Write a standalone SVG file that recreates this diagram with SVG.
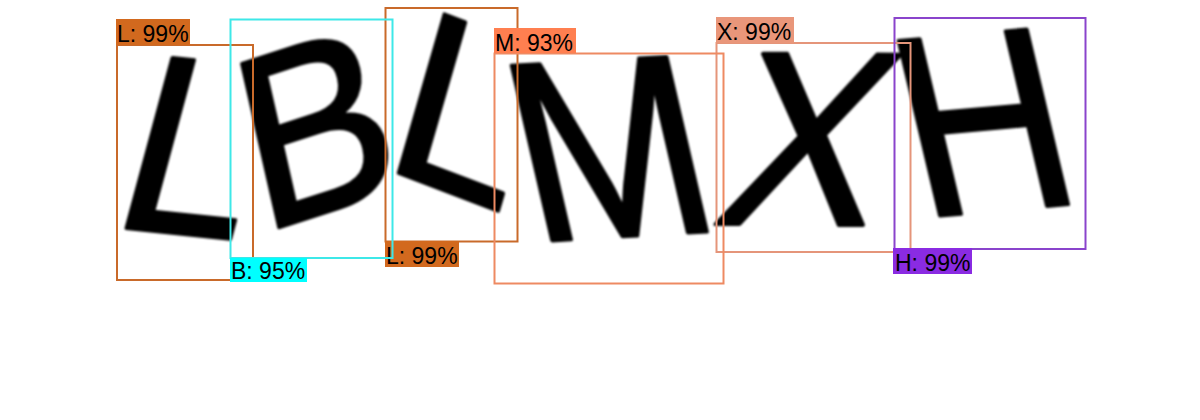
<svg xmlns="http://www.w3.org/2000/svg" width="1200" height="420" viewBox="0 0 1200 420">
<defs>
<filter id="soft" x="-10%" y="-10%" width="120%" height="120%"><feGaussianBlur stdDeviation="1.1"/></filter>
<style>
.glyph{font-family:"Liberation Sans",Arial,sans-serif;font-size:200px;fill:#000;stroke:#000;stroke-width:3;stroke-linejoin:round}
.box{fill:none;stroke-width:2}
.lbl{font-family:"Liberation Sans",Arial,sans-serif;font-size:23px;fill:#000}
</style>
</defs>
<rect width="1200" height="420" fill="#fff"/>
<g id="letters" filter="url(#soft)">
<text class="glyph" transform="matrix(1.1785 0.124 -0.3335 1.237 107 226)">L</text>
<text class="glyph" transform="matrix(1.095 -0.355 0.27 1.19 261 233.2)">B</text>
<text class="glyph" transform="matrix(1.13 0.43 -0.3335 1.155 380 166)">L</text>
<text class="glyph" transform="matrix(1.16 -0.067 0.2935 1.27 532.9 241.6)">M</text>
<text class="glyph" transform="matrix(1.185 0.01 -0.31 1.24 710 224)">X</text>
<text class="glyph" transform="matrix(1.15 -0.103 0.30 1.27 920.9 217.4)">H</text>
</g>
<g id="det-L1">
<rect class="box" x="117" y="45" width="136" height="235" stroke="#C96A2A"/>
<rect x="116" y="19" width="74" height="26" fill="#D2691E"/>
<text class="lbl" x="117" y="42">L: 99%</text>
</g>
<g id="det-L2">
<rect class="box" x="385.5" y="8" width="132" height="233.5" stroke="#C96A2A"/>
<rect x="385" y="241" width="74" height="26" fill="#D2691E"/>
<text class="lbl" x="386" y="264">L: 99%</text>
</g>
<g id="det-X">
<rect class="box" x="716.5" y="43" width="194" height="209" stroke="#E5957A"/>
<rect x="716" y="17" width="78" height="26" fill="#E9967A"/>
<text class="lbl" x="717" y="40">X: 99%</text>
</g>
<g id="det-H">
<rect class="box" x="894.5" y="18" width="191" height="231" stroke="#8A44CC"/>
<rect x="893" y="248" width="79" height="26" fill="#8A2BE2"/>
<text class="lbl" x="895" y="271">H: 99%</text>
</g>
<g id="det-B">
<rect class="box" x="230.5" y="19.5" width="162" height="238.5" stroke="#3EE8E8"/>
<rect x="230" y="258" width="77" height="24" fill="#00FFFF"/>
<text class="lbl" x="231" y="279">B: 95%</text>
</g>
<g id="det-M">
<rect class="box" x="494.5" y="53.5" width="229" height="230" stroke="#EE8A62"/>
<rect x="494" y="28" width="82" height="25" fill="#FF7F50"/>
<text class="lbl" x="495" y="51">M: 93%</text>
</g>
</svg>
